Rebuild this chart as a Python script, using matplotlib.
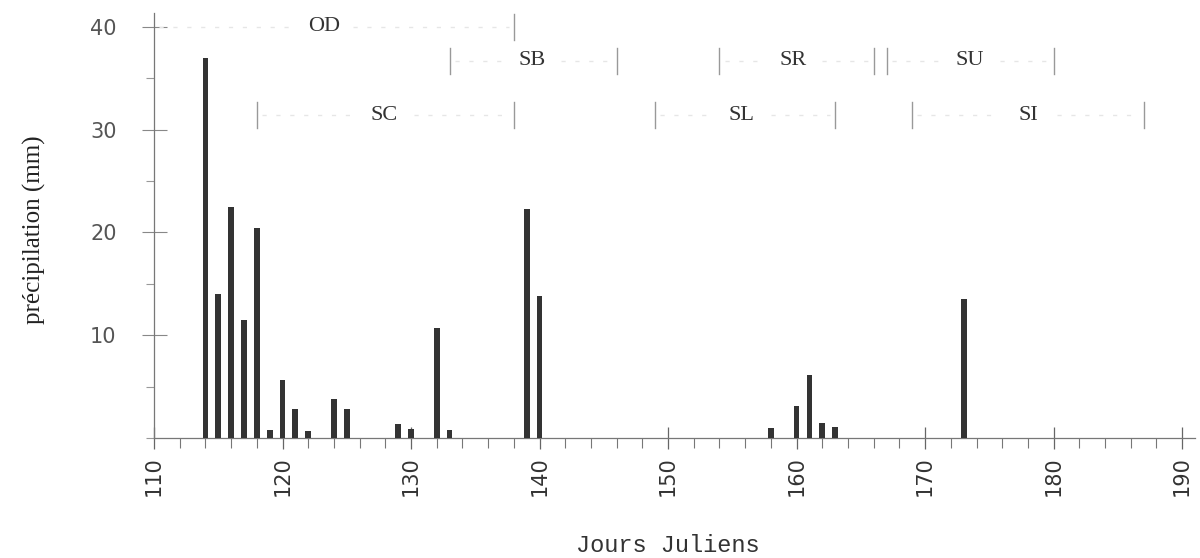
import matplotlib
matplotlib.use("Agg")
import matplotlib.pyplot as plt
from matplotlib.ticker import MultipleLocator

# Data
days = [114, 115, 116, 117, 118, 119, 120, 121, 122, 124, 125, 129, 130,
        132, 133, 139, 140, 158, 160, 161, 162, 163, 173]
precip = [37.0, 14.0, 22.5, 11.5, 20.4, 0.8, 5.6, 2.8, 0.7, 3.8, 2.8, 1.4, 0.9,
          10.7, 0.8, 22.3, 13.8, 1.0, 3.1, 6.1, 1.5, 1.1, 13.5]

phase_names = ["OD", "SB", "SR", "SU", "SC", "SL", "SI"]
phase_start = [110, 133, 154, 167, 118, 149, 169]
phase_end = [138, 146, 166, 180, 138, 163, 187]
phase_label_x = [123.2, 139.4, 159.7, 173.5, 127.9, 155.7, 178.0]
phase_level = [40.0, 36.7, 36.7, 36.7, 31.4, 31.4, 31.4]

xticks_major = [110, 120, 130, 140, 150, 160, 170, 180, 190]
yticks_major = [10, 20, 30, 40]

fig = plt.figure(figsize=(12, 5.58), dpi=100)
ax = fig.add_axes([154 / 1200, 120 / 558, 1041 / 1200, 425 / 558])

ax.bar(days, precip, width=0.45, color="#333333", zorder=3)

ax.set_xlim(110, 191)
ax.set_ylim(0, 41.35)

for s in ["top", "right"]:
    ax.spines[s].set_visible(False)
for s in ["left", "bottom"]:
    ax.spines[s].set_color("#777777")
    ax.spines[s].set_linewidth(0.9)

ax.set_xticks(xticks_major)
ax.xaxis.set_minor_locator(MultipleLocator(2))
ax.set_yticks(yticks_major)
ax.yaxis.set_minor_locator(MultipleLocator(5))

ax.tick_params(axis="x", which="major", direction="inout", length=16,
               width=0.9, color="#666666", pad=5, labelsize=15,
               labelcolor="#333333", labelrotation=90)
ax.tick_params(axis="x", which="minor", direction="out", length=7,
               width=0.8, color="#777777")
ax.tick_params(axis="y", which="major", direction="inout", length=18,
               width=0.8, color="#888888", pad=18, labelsize=15,
               labelcolor="#555555")
ax.tick_params(axis="y", which="minor", direction="out", length=6,
               width=0.8, color="#999999")
for lab in ax.get_xticklabels():
    lab.set_family("DejaVu Sans")

ax.set_ylabel("précipilation (mm)", family="Liberation Serif", fontsize=18,
              color="#222222")
ax.yaxis.set_label_coords(-0.104, 0.49)
ax.set_xlabel("Jours Juliens", family="Liberation Mono", fontsize=17,
              color="#333333")
ax.xaxis.set_label_coords(0.494, -0.225)

# Phase annotations
half_h = 1.25
for name, a, b, tx, lev in zip(phase_names, phase_start, phase_end,
                               phase_label_x, phase_level):
    if a > 110:
        ax.plot([a, a], [lev - half_h, lev + half_h], color="#999999",
                lw=1.0, clip_on=False, zorder=4)
    ax.plot([b, b], [lev - half_h, lev + half_h], color="#999999",
            lw=1.0, clip_on=False, zorder=4)
    gap = 2.3
    ax.plot([a + 0.4, tx - gap], [lev, lev], color="#e6e6e6", lw=1.0,
            ls=(0, (3, 7)), clip_on=False)
    ax.plot([tx + gap, b - 0.4], [lev, lev], color="#e6e6e6", lw=1.0,
            ls=(0, (3, 7)), clip_on=False)
    ax.text(tx, lev, name, ha="center", va="center",
            family="Liberation Serif", fontsize=16, color="#333333",
            clip_on=False, zorder=5,
            bbox=dict(facecolor="white", edgecolor="none", pad=1))

fig.savefig("out.png", dpi=100, facecolor="white")
